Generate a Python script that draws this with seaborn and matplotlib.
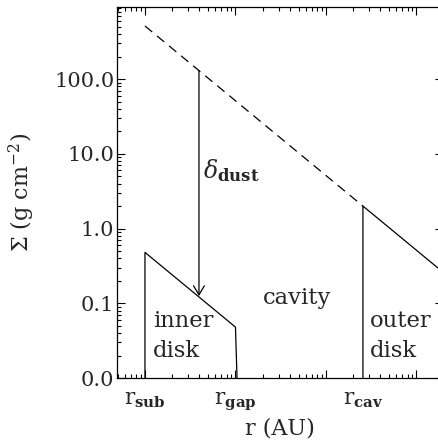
import numpy as np
import pandas as pd
import matplotlib
matplotlib.use("Agg")
import matplotlib.pyplot as plt
import matplotlib.ticker as mticker
import matplotlib.transforms as mtrans
import seaborn as sns

# ---------------- data ----------------
r_sub, r_gap, r_cav = 0.1, 1.0, 25.6
gas_r = [0.1, 25.6]
gas_sigma = [514.0, 2.0]
inner_r = [0.1, 0.1, 1.0, 1.04]
inner_sigma = [0.01, 0.48, 0.048, 0.01]
outer_r = [25.6, 25.6, 200.0]
outer_sigma = [0.01, 2.0, 0.256]
arrow_r = 0.395
arrow_top = 130.0
arrow_bottom = 0.125
ytick_vals = [0.01, 0.1, 1.0, 10.0, 100.0]
xlabel_pos = [r_sub, r_gap, r_cav]
xlabel_txt = [r"$\mathregular{r}_{\mathbf{sub}}$", r"$\mathregular{r}_{\mathbf{gap}}$",
              r"$\mathregular{r}_{\mathbf{cav}}$"]

sns.set_theme(style="ticks")
plt.rcParams["font.family"] = ["DejaVu Serif"]
plt.rcParams["mathtext.fontset"] = "dejavuserif"

fig = plt.figure(figsize=(4.39, 4.40), dpi=100)
ax = fig.add_axes([117 / 439, 62 / 440, 326 / 439, 371 / 440])

gas = pd.DataFrame({"r": gas_r, "s": gas_sigma})
inner = pd.DataFrame({"r": inner_r, "s": inner_sigma})
outer = pd.DataFrame({"r": outer_r, "s": outer_sigma})

sns.lineplot(data=gas, x="r", y="s", ax=ax, sort=False, estimator=None,
             color="black", lw=0.9, dashes=False, linestyle=(0, (7.5, 5)))
sns.lineplot(data=inner, x="r", y="s", ax=ax, sort=False, estimator=None,
             color="black", lw=0.9)
sns.lineplot(data=outer, x="r", y="s", ax=ax, sort=False, estimator=None,
             color="black", lw=0.9)

ax.set_xscale("log")
ax.set_yscale("log")
ax.set_xlim(10 ** -1.309, 10 ** 2.293)
ax.set_ylim(0.01, 10 ** 2.965)

ax.annotate("", xy=(arrow_r, arrow_bottom), xytext=(arrow_r, arrow_top),
            arrowprops=dict(arrowstyle="->,head_length=0.5,head_width=0.3",
                            color="black", lw=0.9, mutation_scale=13,
                            shrinkA=0, shrinkB=0))

# ticks
ax.xaxis.set_major_locator(mticker.LogLocator(base=10))
ax.xaxis.set_minor_locator(mticker.LogLocator(base=10, subs=np.arange(2, 10)))
ax.xaxis.set_major_formatter(mticker.NullFormatter())
ax.xaxis.set_minor_formatter(mticker.NullFormatter())
ax.yaxis.set_major_locator(mticker.FixedLocator(ytick_vals))
ax.yaxis.set_minor_locator(mticker.LogLocator(base=10, subs=np.arange(2, 10)))
ax.yaxis.set_major_formatter(mticker.FuncFormatter(lambda v, p: f"{v:.1f}"))
ax.yaxis.set_minor_formatter(mticker.NullFormatter())
ax.tick_params(which="both", direction="in", top=True, right=True,
               color="black", width=0.8)
ax.tick_params(which="major", length=5.5, labelsize=15, pad=2)
ax.tick_params(which="minor", length=2.8)
for s in ax.spines.values():
    s.set_color("black")
    s.set_linewidth(0.9)

tr = mtrans.blended_transform_factory(ax.transData, ax.transAxes)
for xp, t in zip(xlabel_pos, xlabel_txt):
    ax.text(xp, -0.072, t, transform=tr, ha="center", va="baseline", fontsize=15.5)

ax.set_xlabel("r (AU)", fontsize=16, labelpad=25)
ax.set_ylabel(r"$\Sigma$ (g cm$^{-2}$)", fontsize=16, labelpad=12)

ax.text(0.1226, 0.0484, "inner", fontsize=16.3, va="baseline", ha="left")
ax.text(0.1226, 0.0193, "disk", fontsize=16.3, va="baseline", ha="left")
ax.text(2.02, 0.0977, "cavity", fontsize=16.3, va="baseline", ha="left")
ax.text(30.5, 0.0484, "outer", fontsize=16.3, va="baseline", ha="left")
ax.text(30.5, 0.0193, "disk", fontsize=16.3, va="baseline", ha="left")
ax.text(0.437, 4.7, r"$\delta_{\mathbf{dust}}$", fontsize=17, va="baseline", ha="left")

fig.savefig("out.png", dpi=100)
